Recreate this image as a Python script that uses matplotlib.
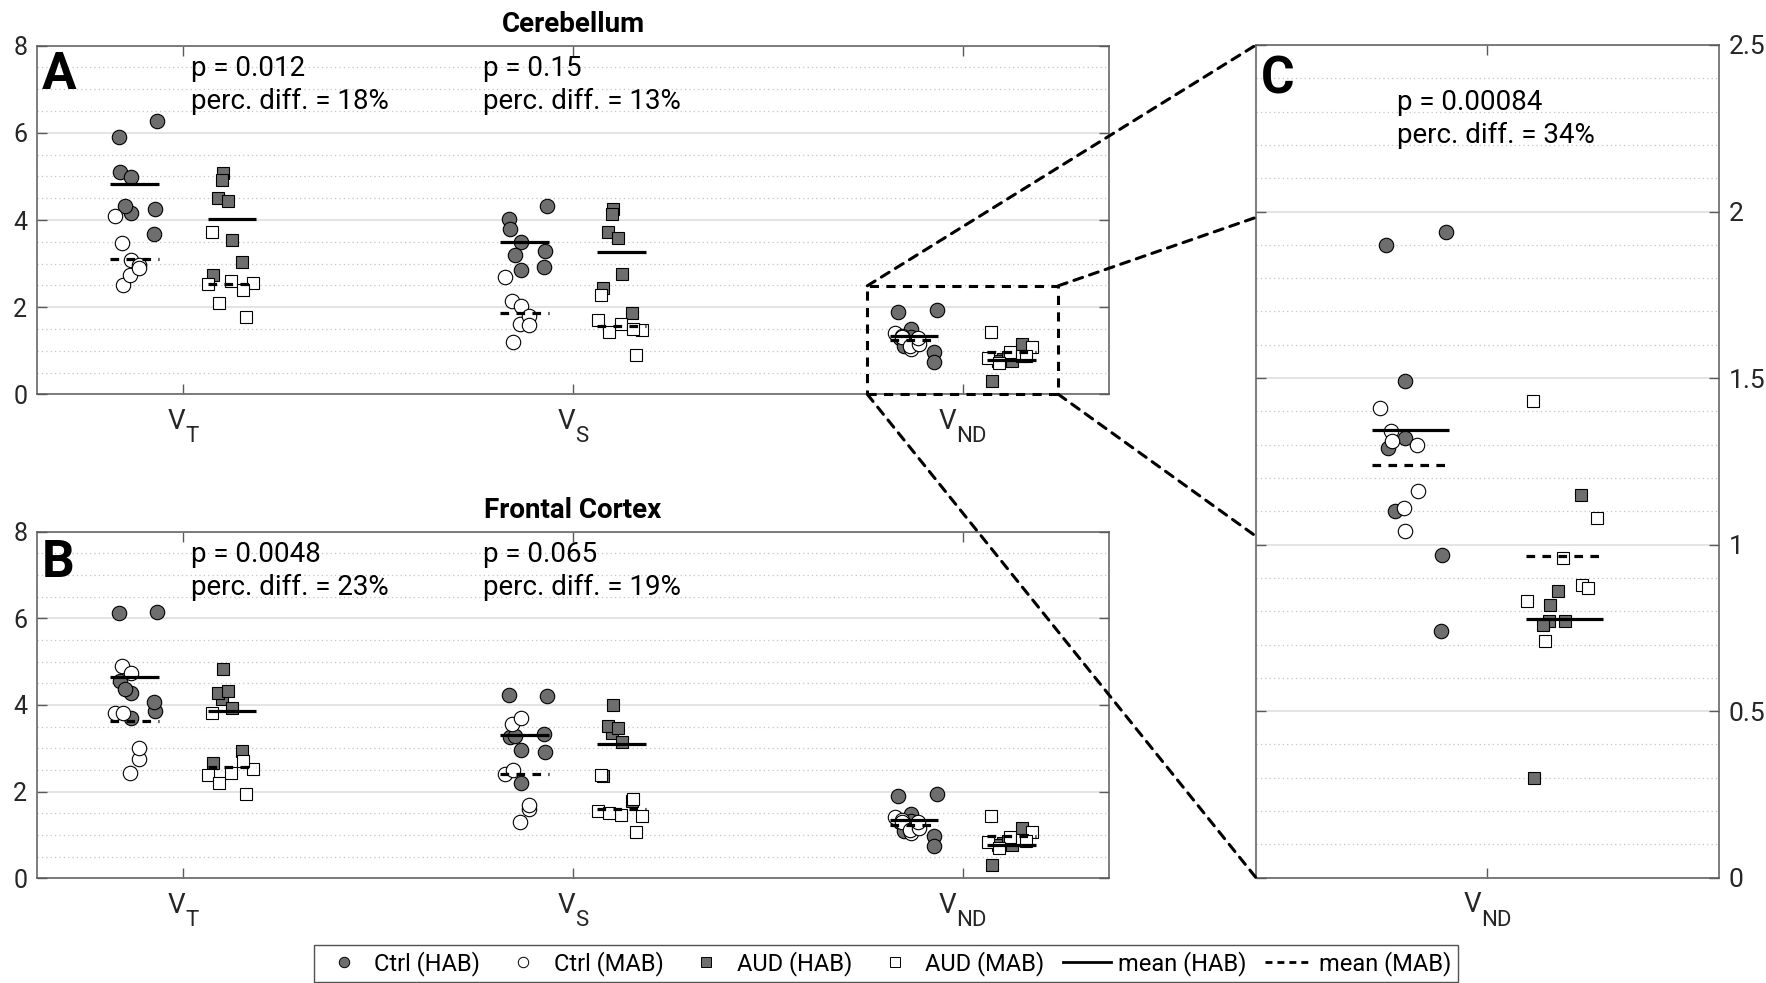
import numpy as np
import matplotlib
matplotlib.use("Agg")
import matplotlib.pyplot as plt
from matplotlib.lines import Line2D
from matplotlib.patches import Rectangle, ConnectionPatch
from matplotlib.ticker import MultipleLocator, FixedLocator, FuncFormatter

plt.rcParams['font.family'] = ['Roboto', 'DejaVu Sans']

# ---------------------------------------------------------------- data
tick_main = ['V', 'V', 'V']
tick_sub = ['T', 'S', 'ND']
legend_labels = ['Ctrl (HAB)', 'Ctrl (MAB)', 'AUD (HAB)', 'AUD (MAB)', 'mean (HAB)', 'mean (MAB)']

# per-subject horizontal jitter (category units), shared by all measures
jit_ctrl_hab = [-0.067, -0.165, -0.161, -0.133, -0.133, -0.150, -0.073, -0.075]
jit_ctrl_mab = [-0.174, -0.156, -0.155, -0.134, -0.136, -0.113, -0.114]
jit_aud_hab = [0.102, 0.099, 0.090, 0.115, 0.126, 0.151, 0.076]
jit_aud_mab = [0.073, 0.064, 0.122, 0.178, 0.153, 0.093, 0.162]

# non-displaceable volume (common to both regions)
vnd_ctrl_hab = [1.94, 1.90, 1.29, 1.49, 1.32, 1.10, 0.97, 0.74]
vnd_ctrl_mab = [1.41, 1.34, 1.31, 1.04, 1.11, 1.16, 1.30]
vnd_aud_hab = [0.82, 0.77, 0.76, 0.86, 0.77, 1.15, 0.30]
vnd_aud_mab = [1.43, 0.83, 0.96, 1.08, 0.88, 0.71, 0.87]

# cerebellum
cb_vt_ctrl_hab = [6.28, 5.90, 5.11, 4.99, 4.15, 4.33, 4.25, 3.67]
cb_vs_ctrl_hab = [4.31, 4.02, 3.79, 3.49, 2.85, 3.20, 3.30, 2.93]
cb_vt_ctrl_mab = [4.09, 3.48, 2.51, 3.08, 2.74, 2.97, 2.89]
cb_vs_ctrl_mab = [2.70, 2.15, 1.21, 2.03, 1.61, 1.80, 1.59]
cb_vt_aud_hab = [5.07, 4.92, 4.50, 4.44, 3.53, 3.03, 2.74]
cb_vs_aud_hab = [4.25, 4.14, 3.73, 3.58, 2.76, 1.87, 2.45]
cb_vt_aud_mab = [3.73, 2.53, 2.59, 2.55, 2.39, 2.10, 1.77]
cb_vs_aud_mab = [2.28, 1.71, 1.61, 1.48, 1.51, 1.44, 0.90]

# frontal cortex
fc_vt_ctrl_hab = [6.15, 6.12, 4.55, 3.69, 4.28, 4.38, 3.86, 4.07]
fc_vs_ctrl_hab = [4.21, 4.22, 3.26, 2.21, 2.96, 3.28, 2.92, 3.33]
fc_vt_ctrl_mab = [3.81, 4.90, 3.81, 4.75, 2.42, 2.76, 3.00]
fc_vs_ctrl_mab = [2.40, 3.57, 2.50, 3.70, 1.31, 1.60, 1.70]
fc_vt_aud_hab = [4.82, 4.13, 4.28, 4.32, 3.92, 2.94, 2.67]
fc_vs_aud_hab = [4.00, 3.36, 3.52, 3.46, 3.15, 1.79, 2.37]
fc_vt_aud_mab = [3.82, 2.38, 2.42, 2.52, 2.71, 2.21, 1.95]
fc_vs_aud_mab = [2.39, 1.55, 1.46, 1.44, 1.83, 1.50, 1.08]

# group comparison statistics (V_T, V_S) and V_ND
p_cb = ['0.012', '0.15']
diff_cb = [18, 13]
p_fc = ['0.0048', '0.065']
diff_fc = [23, 19]
p_nd = '0.00084'
diff_nd = 34

# ---------------------------------------------------------------- style
GRAY = '#6e6e6e'
FRAME = '#5a5a5a'
TICKC = '#262626'
W, H = 1766, 983
fig = plt.figure(figsize=(W / 100, H / 100), dpi=100)


def px_axes(left, top, right, bottom):
    return fig.add_axes([left / W, 1 - bottom / H, (right - left) / W, (bottom - top) / H])


axA = px_axes(37, 45.7, 1109, 394.3)
axB = px_axes(37, 531.7, 1109, 878.3)
axC = px_axes(1256, 45, 1719, 877.7)


def style_axes(ax, ymax, major, minor, right_labels=False):
    ax.set_ylim(0, ymax)
    ax.yaxis.set_major_locator(MultipleLocator(major))
    ax.yaxis.set_minor_locator(MultipleLocator(minor))
    ax.set_axisbelow(True)
    ax.yaxis.grid(True, which='major', color='#e2e2e2', lw=1.3, ls='-')
    ax.yaxis.grid(True, which='minor', color='#c4c4c4', lw=0.9, ls=(0, (1, 2.5)))
    for s in ax.spines.values():
        s.set_color(FRAME)
        s.set_linewidth(1.1)
    ax.tick_params(which='major', direction='in', length=7, width=1.0, color=FRAME,
                   top=True, bottom=True, left=True, right=True,
                   labelcolor=TICKC, labelsize=18, pad=7)
    ax.tick_params(which='minor', length=0)
    ax.tick_params(axis='x', labelbottom=False)
    if right_labels:
        ax.tick_params(axis='y', labelleft=False, labelright=True, labelsize=19)


xlabel_parts = []


def category_labels(ax, positions, mains, subs):
    for x, m, s in zip(positions, mains, subs):
        a = ax.annotate(m, xy=(x, 0), xycoords=('data', 'axes fraction'), xytext=(0, -34.5),
                        textcoords='offset pixels', fontsize=20, color=TICKC,
                        ha='left', va='baseline')
        b = ax.annotate(s, xy=(x, 0), xycoords=('data', 'axes fraction'), xytext=(0, -48),
                        textcoords='offset pixels', fontsize=16, color=TICKC,
                        ha='left', va='baseline')
        xlabel_parts.append((a, b))


def plot_category(ax, pos, ctrl_hab, ctrl_mab, aud_hab, aud_mab):
    groups = [(ctrl_hab, jit_ctrl_hab, 'o', 10.4, GRAY),
              (ctrl_mab, jit_ctrl_mab, 'o', 10.4, 'white'),
              (aud_hab, jit_aud_hab, 's', 8.2, GRAY),
              (aud_mab, jit_aud_mab, 's', 8.2, 'white')]
    for vals, jit, m, ms, fc in groups:
        ax.plot(pos + np.asarray(jit), vals, ls='none', marker=m, ms=ms,
                mfc=fc, mec='black', mew=0.8, zorder=3)
    for center, hab, mab in [(pos - 0.125, ctrl_hab, ctrl_mab),
                             (pos + 0.125, aud_hab, aud_mab)]:
        xs = [center - 0.0625, center + 0.0625]
        ax.plot(xs, [np.mean(hab)] * 2, color='black', lw=2.3, zorder=4,
                solid_capstyle='butt')
        ax.plot(xs, [np.mean(mab)] * 2, color='black', lw=2.3, zorder=4,
                ls=(0, (2.7, 2.3)), dash_capstyle='butt')


def stat_text(ax, x, y1, y2, p, d):
    ax.text(x, y1, f'p = {p}', fontsize=20, va='baseline', ha='left', color='black', zorder=6)
    ax.text(x, y2, f'perc. diff. = {d}%', fontsize=20, va='baseline', ha='left', color='black', zorder=6)


def panel_letter(ax, letter, drop):
    ax.annotate(letter, xy=(0, 1), xycoords='axes fraction', xytext=(5, -drop),
                textcoords='offset pixels', fontsize=37, fontweight='bold',
                va='baseline', ha='left', zorder=7)


def panel_title(ax, title):
    ax.annotate(title, xy=(0.5, 1), xycoords='axes fraction', xytext=(0, 14),
                textcoords='offset pixels', fontsize=20, fontweight='bold',
                va='baseline', ha='center')


positions = [1, 2, 3]
region_data = [
    (axA, [(cb_vt_ctrl_hab, cb_vt_ctrl_mab, cb_vt_aud_hab, cb_vt_aud_mab),
           (cb_vs_ctrl_hab, cb_vs_ctrl_mab, cb_vs_aud_hab, cb_vs_aud_mab),
           (vnd_ctrl_hab, vnd_ctrl_mab, vnd_aud_hab, vnd_aud_mab)],
     p_cb, diff_cb, 'A', 43.6, 'Cerebellum'),
    (axB, [(fc_vt_ctrl_hab, fc_vt_ctrl_mab, fc_vt_aud_hab, fc_vt_aud_mab),
           (fc_vs_ctrl_hab, fc_vs_ctrl_mab, fc_vs_aud_hab, fc_vs_aud_mab),
           (vnd_ctrl_hab, vnd_ctrl_mab, vnd_aud_hab, vnd_aud_mab)],
     p_fc, diff_fc, 'B', 45.0, 'Frontal Cortex'),
]

text_x = [1.02, 1.77]
for ax, cats, pvals, diffs, letter, drop, title in region_data:
    style_axes(ax, 8, 2, 0.5)
    ax.set_xlim(0.625, 3.375)
    ax.xaxis.set_major_locator(FixedLocator(positions))
    category_labels(ax, positions, tick_main, tick_sub)
    for pos, groups in zip(positions, cats):
        plot_category(ax, pos, *groups)
    for x, p, d in zip(text_x, pvals, diffs):
        stat_text(ax, x, 7.31, 6.55, p, d)
    panel_letter(ax, letter, drop)
    panel_title(ax, title)

# magnified V_ND panel
style_axes(axC, 2.5, 0.5, 0.1, right_labels=True)
axC.set_xlim(2.625, 3.375)
axC.xaxis.set_major_locator(FixedLocator([3]))
category_labels(axC, [3], tick_main[2:], tick_sub[2:])
axC.yaxis.set_major_formatter(FuncFormatter(lambda v, _: f'{v:g}'))
plot_category(axC, 3, vnd_ctrl_hab, vnd_ctrl_mab, vnd_aud_hab, vnd_aud_mab)
stat_text(axC, 2.853, 2.305, 2.205, p_nd, diff_nd)
panel_letter(axC, 'C', 48.5)

# zoom box and connectors
zx0, zx1, zy1 = 2.755, 3.245, 2.49
dash = (0, (3.0, 2.4))
axA.add_patch(Rectangle((zx0, 0), zx1 - zx0, zy1, fill=False, ec='black', lw=2.2,
                        ls=dash, clip_on=False, zorder=8))
for a, b in [((zx0, zy1), (0, 1)), ((zx1, zy1), (0, 0.793)),
             ((zx1, 0), (0, 0.410)), ((zx0, 0), (0, 0))]:
    con = ConnectionPatch(xyA=a, coordsA=axA.transData, xyB=b, coordsB=axC.transAxes,
                          color='black', lw=2.2, ls=dash, zorder=8)
    fig.add_artist(con)

# legend
handles = [
    Line2D([], [], ls='none', marker='o', ms=7.5, mfc=GRAY, mec='black', mew=0.7),
    Line2D([], [], ls='none', marker='o', ms=7.5, mfc='white', mec='black', mew=0.7),
    Line2D([], [], ls='none', marker='s', ms=6.5, mfc=GRAY, mec='black', mew=0.7),
    Line2D([], [], ls='none', marker='s', ms=6.5, mfc='white', mec='black', mew=0.7),
    Line2D([], [], color='black', lw=2.0),
    Line2D([], [], color='black', lw=2.0, ls=(0, (2.5, 1.8))),
]
leg = fig.legend(handles, legend_labels, loc='lower center', bbox_to_anchor=(0.5017, 0.001),
                 ncol=6, fontsize=17, frameon=True, fancybox=False, edgecolor='#262626',
                 handlelength=2.0, handletextpad=0.3, columnspacing=0.8, borderpad=0.25,
                 borderaxespad=0)
leg.get_frame().set_linewidth(1.0)

# centre each "V + subscript" label under its tick
renderer = fig.canvas.get_renderer()
for a, b in xlabel_parts:
    wv = a.get_window_extent(renderer).width
    ws = b.get_window_extent(renderer).width
    left = -(wv + ws) / 2
    a.xyann = (left, a.xyann[1])
    b.xyann = (left + wv, b.xyann[1])

fig.savefig('out.png', dpi=100, facecolor='white')
